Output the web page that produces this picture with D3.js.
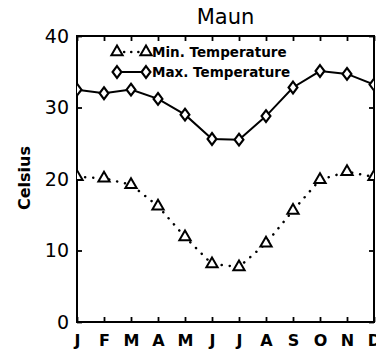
<!DOCTYPE html>
<html>
<head>
<meta charset="utf-8">
<script src="https://cdn.jsdelivr.net/npm/d3@7"></script>
<style>
  body { margin: 0; background: #fff; }
  svg { display: block; font-family: "DejaVu Sans", sans-serif; }
</style>
</head>
<body>
<div id="chart"></div>
<script>
// Datos
const months = ['J','F','M','A','M','J','J','A','S','O','N','D'];
const minTemp = [20.3, 20.1, 19.2, 16.2, 11.9, 8.1, 7.7, 11.0, 15.6, 19.9, 21.0, 20.3];
const maxTemp = [32.5, 32.0, 32.5, 31.2, 29.0, 25.6, 25.5, 28.8, 32.8, 35.1, 34.7, 33.2];
const yTicks = [0, 10, 20, 30, 40];
const title = 'Maun';
const yLabel = 'Celsius';
const legendLabels = ['Min. Temperature', 'Max. Temperature'];

let margin = {top: 36, right: 2, bottom: 30, left: 77},
    width = 376 - margin.left - margin.right,
    height = 352 - margin.top - margin.bottom;

let svg = d3.select('#chart')
    .append('svg')
      .attr('width', 376)
      .attr('height', 352)
    .append('g')
      .attr('transform', 'translate(' + margin.left + ',' + margin.top + ')');

let x = d3.scaleLinear().domain([0, 11]).range([0, width]);
let y = d3.scaleLinear().domain([0, 40]).range([height, 0]);

// Clip del área
svg.append('clipPath').attr('id', 'clip')
    .append('rect').attr('width', width).attr('height', height);

// Ejes
svg.append('g')
    .attr('transform', 'translate(0,' + height + ')')
    .call(d3.axisBottom(x).tickValues(d3.range(12)).tickSize(-5).tickPadding(13).tickFormat(function(d) { return months[d]; }))
    .call(function(g) {
        g.select('.domain').remove();
        g.selectAll('text').attr('font-size', 16).attr('font-weight', 'bold').attr('font-family', '"DejaVu Sans", sans-serif').attr('fill', '#000');
        g.selectAll('.tick line').attr('stroke-width', 1.8);
    });

svg.append('g')
    .call(d3.axisTop(x).tickValues(d3.range(12)).tickSize(-5).tickFormat(''))
    .call(function(g) {
        g.select('.domain').remove();
        g.selectAll('.tick line').attr('stroke-width', 1.8);
    });

svg.append('g')
    .call(d3.axisLeft(y).tickValues(yTicks).tickSize(-5).tickPadding(8))
    .call(function(g) {
        g.select('.domain').remove();
        g.selectAll('text').attr('font-size', 19).attr('font-family', '"DejaVu Sans", sans-serif').attr('fill', '#000');
        g.selectAll('.tick line').attr('stroke-width', 1.8);
    });

svg.append('g')
    .attr('transform', 'translate(' + width + ',0)')
    .call(d3.axisRight(y).tickValues(yTicks).tickSize(-5).tickFormat(''))
    .call(function(g) {
        g.select('.domain').remove();
        g.selectAll('.tick line').attr('stroke-width', 1.8);
    });

svg.append('rect')
    .attr('width', width)
    .attr('height', height)
    .attr('fill', 'none')
    .attr('stroke', '#000')
    .attr('stroke-width', 2);

// Título y etiqueta
svg.append('text')
    .attr('x', width / 2)
    .attr('y', -12)
    .attr('text-anchor', 'middle')
    .attr('font-size', 21)
    .text(title);

svg.append('text')
    .attr('transform', 'translate(' + (-47) + ',' + (height / 2 - 1) + ') rotate(-90)')
    .attr('text-anchor', 'middle')
    .attr('font-size', 16)
    .attr('font-weight', 'bold')
    .text(yLabel);

// Líneas
let line = d3.line()
    .x(function(d, i) { return x(i); })
    .y(function(d) { return y(d); });

let plot = svg.append('g').attr('clip-path', 'url(#clip)');

plot.append('path')
    .datum(minTemp)
    .attr('d', line)
    .attr('fill', 'none')
    .attr('stroke', '#000')
    .attr('stroke-width', 2.5)
    .attr('stroke-linecap', 'round')
    .attr('stroke-dasharray', '0.1,8');

plot.append('path')
    .datum(maxTemp)
    .attr('d', line)
    .attr('fill', 'none')
    .attr('stroke', '#000')
    .attr('stroke-width', 2);

let triangle = d3.symbol().type(d3.symbolTriangle).size(55);
let diamond = d3.symbol().type(d3.symbolDiamond).size(40);

plot.selectAll('.tri')
    .data(minTemp)
    .enter()
    .append('path')
    .attr('class', 'tri')
    .attr('d', triangle)
    .attr('transform', function(d, i) { return 'translate(' + x(i) + ',' + y(d) + ')'; })
    .attr('fill', '#fff')
    .attr('stroke', '#000')
    .attr('stroke-width', 2);

plot.selectAll('.dia')
    .data(maxTemp)
    .enter()
    .append('path')
    .attr('class', 'dia')
    .attr('d', diamond)
    .attr('transform', function(d, i) { return 'translate(' + x(i) + ',' + y(d) + ') scale(1.3,1)'; })
    .attr('fill', '#fff')
    .attr('stroke', '#000')
    .attr('stroke-width', 1.8);

// Leyenda
let legend = svg.append('g').attr('transform', 'translate(40,16)');

legend.append('line')
    .attr('x1', 0).attr('x2', 29).attr('y1', 0).attr('y2', 0)
    .attr('stroke', '#000').attr('stroke-width', 2.5)
    .attr('stroke-linecap', 'round').attr('stroke-dasharray', '0.1,7');

legend.append('line')
    .attr('x1', 0).attr('x2', 29).attr('y1', 20).attr('y2', 20)
    .attr('stroke', '#000').attr('stroke-width', 2);

[0, 29].forEach(function(px) {
    legend.append('path').attr('d', triangle)
        .attr('transform', 'translate(' + px + ',0)')
        .attr('fill', '#fff').attr('stroke', '#000').attr('stroke-width', 2);
    legend.append('path').attr('d', diamond)
        .attr('transform', 'translate(' + px + ',20) scale(1.3,1)')
        .attr('fill', '#fff').attr('stroke', '#000').attr('stroke-width', 1.8);
});

legend.selectAll('.leg-text')
    .data(legendLabels)
    .enter()
    .append('text')
    .attr('x', 35)
    .attr('y', function(d, i) { return i * 20 + 5; })
    .attr('font-size', 13.5)
    .attr('font-weight', 'bold')
    .text(function(d) { return d; });
</script>
</body>
</html>
